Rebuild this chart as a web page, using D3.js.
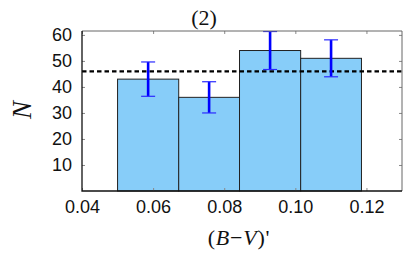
<!DOCTYPE html>
<html>
<head>
<meta charset="utf-8">
<script src="https://cdn.jsdelivr.net/npm/d3@7"></script>
<style>
  body { margin: 0; background: #fff; }
  .tick text { font-family: 'Liberation Sans', Arial, sans-serif; font-size: 18px; fill: #111; }
  .tick line { stroke: #888; }
  .serif { font-family: 'Liberation Serif', 'Times New Roman', serif; fill: #111; }
</style>
</head>
<body>
<div id="chart"></div>
<script>
// Data
var binEdges = [0.05, 0.0672, 0.0843, 0.1015, 0.1186]
var counts = [43, 36, 54, 51]
var errors = [6.6, 6.0, 7.3, 7.1]
var meanLevel = [46]
var xTicks = [0.04, 0.06, 0.08, 0.1, 0.12]
var yTicks = [10, 20, 30, 40, 50, 60]

// Set up margin/height/width
var margin = { top: 31, left: 82, right: 5, bottom: 64 }
var height = 255 - margin.top - margin.bottom
var width = 407 - margin.left - margin.right

var svg = d3
  .select('#chart')
  .append('svg')
  .attr('width', 407)
  .attr('height', 255)

var g = svg
  .append('g')
  .attr('transform', `translate(${margin.left},${margin.top})`)

// Scales
var xPositionScale = d3
  .scaleLinear()
  .domain([0.04, 0.13])
  .range([0, width])
var yPositionScale = d3
  .scaleLinear()
  .domain([0, 61.5])
  .range([height, 0])

g.append('clipPath')
  .attr('id', 'plot-clip')
  .append('rect')
  .attr('width', width)
  .attr('height', height)

var bins = counts.map(function(c, i) {
  return { x0: binEdges[i], x1: binEdges[i + 1], n: c, err: errors[i] }
})

// Bars
g.selectAll('.bar')
  .data(bins)
  .enter()
  .append('rect')
  .attr('class', 'bar')
  .attr('x', d => xPositionScale(d.x0))
  .attr('width', d => xPositionScale(d.x1) - xPositionScale(d.x0))
  .attr('y', d => yPositionScale(d.n))
  .attr('height', d => height - yPositionScale(d.n))
  .attr('fill', '#87cdf9')
  .attr('stroke', '#222')
  .attr('stroke-width', 1)

// Mean line
g.selectAll('.mean')
  .data(meanLevel)
  .enter()
  .append('line')
  .attr('class', 'mean')
  .attr('x1', 0)
  .attr('x2', width)
  .attr('y1', d => yPositionScale(d))
  .attr('y2', d => yPositionScale(d))
  .attr('stroke', '#000')
  .attr('stroke-width', 2.2)
  .attr('stroke-dasharray', '4.5,3')

// Error bars
var errG = g
  .append('g')
  .attr('clip-path', 'url(#plot-clip)')
  .selectAll('g')
  .data(bins)
  .enter()
  .append('g')
  .attr('transform', d => `translate(${(xPositionScale(d.x0) + xPositionScale(d.x1)) / 2},0)`)

errG
  .append('line')
  .attr('y1', d => yPositionScale(d.n - d.err))
  .attr('y2', d => yPositionScale(d.n + d.err))
  .attr('stroke', '#0000ff')
  .attr('stroke-width', 2.6)

errG
  .selectAll('.cap')
  .data(d => [d.n - d.err, d.n + d.err])
  .enter()
  .append('line')
  .attr('class', 'cap')
  .attr('x1', -7)
  .attr('x2', 7)
  .attr('y1', d => yPositionScale(d))
  .attr('y2', d => yPositionScale(d))
  .attr('stroke', '#2a2aff')
  .attr('stroke-width', 1.2)

// Axes, ticks pointing inwards
var xAxis = d3
  .axisBottom(xPositionScale)
  .tickValues(xTicks)
  .tickFormat(d3.format('.2f'))
  .tickSizeInner(-3)
  .tickSizeOuter(0)
  .tickPadding(9)
g.append('g')
  .attr('class', 'axis x-axis')
  .attr('transform', 'translate(0,' + height + ')')
  .call(xAxis)

var yAxis = d3
  .axisLeft(yPositionScale)
  .tickValues(yTicks)
  .tickSizeInner(-3)
  .tickSizeOuter(0)
  .tickPadding(10)
g.append('g')
  .attr('class', 'axis y-axis')
  .call(yAxis)

// mirrored ticks on top and right
g.append('g')
  .attr('class', 'axis')
  .call(d3.axisTop(xPositionScale).tickValues(xTicks).tickSizeInner(-3).tickSizeOuter(0).tickFormat(''))
g.append('g')
  .attr('class', 'axis')
  .attr('transform', 'translate(' + width + ',0)')
  .call(d3.axisRight(yPositionScale).tickValues(yTicks).tickSizeInner(-3).tickSizeOuter(0).tickFormat(''))

g.selectAll('.axis .domain').remove()

// Frame
g.append('path')
  .attr('d', `M0,0H${width}V${height}`)
  .attr('fill', 'none')
  .attr('stroke', '#666')
  .attr('stroke-width', 1)
g.append('path')
  .attr('d', `M0,0V${height}H${width}`)
  .attr('fill', 'none')
  .attr('stroke', '#111')
  .attr('stroke-width', 1.3)

// Title and labels
svg
  .append('text')
  .attr('class', 'serif')
  .attr('x', 204)
  .attr('y', 25)
  .attr('text-anchor', 'middle')
  .attr('font-size', 22)
  .text('(2)')

svg
  .append('text')
  .attr('class', 'serif')
  .attr('transform', 'translate(31,110) rotate(-90)')
  .attr('text-anchor', 'middle')
  .attr('font-size', 27)
  .attr('font-style', 'italic')
  .text('N')

var xLabel = svg
  .append('text')
  .attr('class', 'serif')
  .attr('x', 239)
  .attr('y', 245)
  .attr('text-anchor', 'middle')
  .attr('font-size', 22)
  .attr('letter-spacing', 0.8)
xLabel.append('tspan').text('(')
xLabel.append('tspan').attr('font-style', 'italic').text('B')
xLabel.append('tspan').text('\u2212')
xLabel.append('tspan').attr('font-style', 'italic').text('V')
xLabel.append('tspan').text(")'")
</script>
</body>
</html>
